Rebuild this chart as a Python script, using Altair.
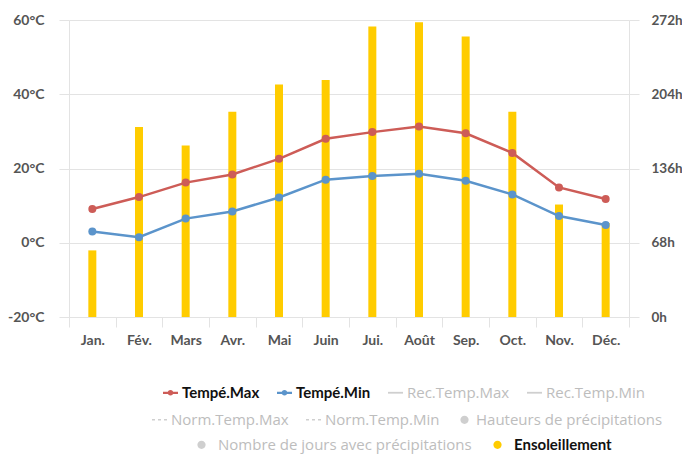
import json
import altair as alt
import pandas as pd

# ---------------- data ----------------
months = ["Jan.", "Fév.", "Mars", "Avr.", "Mai", "Juin", "Jui.", "Août", "Sep.", "Oct.", "Nov.", "Déc."]
temp_max = [9.1, 12.3, 16.2, 18.4, 22.6, 28.0, 29.8, 31.3, 29.5, 24.2, 14.9, 11.8]
temp_min = [3.0, 1.5, 6.5, 8.4, 12.2, 17.0, 18.0, 18.6, 16.7, 13.0, 7.2, 4.8]
sunshine = [61, 174, 157, 188, 213, 217, 266, 270, 257, 188, 103, 86]

left_ticks = [-20, 0, 20, 40, 60]
right_ticks = [0, 68, 136, 204, 272]

legend_row1 = ["Tempé.Max", "Tempé.Min", "Rec.Temp.Max", "Rec.Temp.Min"]
legend_row2 = ["Norm.Temp.Max", "Norm.Temp.Min", "Hauteurs de précipitations"]
legend_row3 = ["Nombre de jours avec précipitations", "Ensoleillement"]
active_series = ["Tempé.Max", "Tempé.Min", "Ensoleillement"]
line_dot_series = ["Tempé.Max", "Tempé.Min"]
line_series = ["Rec.Temp.Max", "Rec.Temp.Min"]
dash_series = ["Norm.Temp.Max", "Norm.Temp.Min"]

# ---------------- style ----------------
RED = "#cd5c57"
BLUE = "#5b94cb"
YELLOW = "#ffcc00"
GREY_SYM = "#cfcfcf"
GRID = "#e3e3e3"
AXIS_LABEL = "#555555"
FONT = "Lato"
FONT_GREY = "Open Sans"

df_temp = pd.DataFrame({
    "mois": months * 2,
    "serie": ["Tempé.Max"] * len(months) + ["Tempé.Min"] * len(months),
    "temp": temp_max + temp_min,
})
df_sun = pd.DataFrame({"mois": months, "heures": sunshine})
df_leg = pd.DataFrame({"serie": legend_row1 + legend_row2 + legend_row3})

x_enc = alt.X(
    "mois:N", sort=months,
    scale=alt.Scale(domain=months, paddingInner=0, paddingOuter=0),
    axis=alt.Axis(title=None, labelAngle=0, tickBand="extent", tickSize=10,
                  tickColor=GRID, domainColor=GRID, labelPadding=6,
                  labelColor=AXIS_LABEL, labelFont=FONT, labelFontSize=14,
                  labelFontWeight="bold", grid=False),
)

axis_common = dict(title=None, tickSize=10, tickColor=GRID, domainColor=GRID,
                   labelColor=AXIS_LABEL, labelFont=FONT, labelFontWeight="bold")

bars = alt.Chart(df_sun).mark_bar(size=8, color=YELLOW).encode(
    x=x_enc,
    y=alt.Y("heures:Q", scale=alt.Scale(domain=[0, 272], nice=False),
            axis=alt.Axis(orient="right", values=right_ticks, grid=False,
                          labelPadding=12, labelFontSize=13.5,
                          labelExpr="datum.value + 'h'", **axis_common)),
)

base_temp = alt.Chart(df_temp).encode(
    x=x_enc,
    y=alt.Y("temp:Q", scale=alt.Scale(domain=[-20, 60], nice=False, zero=False),
            axis=alt.Axis(orient="left", values=left_ticks, grid=True, gridColor=GRID,
                          labelPadding=15, labelFontSize=14,
                          labelExpr="datum.value + '°C'", **axis_common)),
    color=alt.Color("serie:N", scale=alt.Scale(domain=line_dot_series, range=[RED, BLUE]),
                    legend=None),
)
lines = base_temp.mark_line(strokeWidth=2.5)
points = base_temp.mark_point(filled=True, size=64, opacity=1)
temp_layer = alt.layer(lines, points)

# legend symbol shapes
P_LINE_DOT = "M-1,-0.15H1V0.15H-1Z M0.38,0A0.38,0.38 0 1,1 -0.38,0A0.38,0.38 0 1,1 0.38,0Z"
P_LINE = "M-1,-0.12H1V0.12H-1Z"
P_DASH = "M-1,-0.1H-0.6V0.1H-1Z M-0.2,-0.1H0.2V0.1H-0.2Z M0.6,-0.1H1V0.1H0.6Z"
P_CIRCLE = "M0.55,0A0.55,0.55 0 1,1 -0.55,0A0.55,0.55 0 1,1 0.55,0Z"

is_active = f"indexof({json.dumps(active_series)}, datum.value) >= 0"
sym_expr = (
    f"indexof({json.dumps(line_dot_series)}, datum.value) >= 0 ? '{P_LINE_DOT}' : "
    f"indexof({json.dumps(line_series)}, datum.value) >= 0 ? '{P_LINE}' : "
    f"indexof({json.dumps(dash_series)}, datum.value) >= 0 ? '{P_DASH}' : '{P_CIRCLE}'"
)
lab_color_expr = f"{is_active} ? '#111111' : '#bdbdbd'"
lab_weight_expr = f"{is_active} ? 'bold' : 'normal'"
lab_font_expr = f"{is_active} ? '{FONT}' : '{FONT_GREY}'"


def legend_layer(names, colors, lx, ly, label_offset=4, col_pad=17):
    return alt.Chart(df_leg).transform_filter("false").mark_point(filled=True).encode(
        color=alt.Color(
            "serie:N",
            scale=alt.Scale(domain=names, range=colors),
            legend=alt.Legend(
                orient="none", legendX=lx, legendY=ly, direction="horizontal",
                title=None, padding=0,
                symbolType={"expr": sym_expr}, symbolSize=225, symbolStrokeWidth=0,
                symbolOpacity=1,
                labelFont={"expr": lab_font_expr}, labelFontSize=15, labelLimit=400,
                labelColor={"expr": lab_color_expr},
                labelFontWeight={"expr": lab_weight_expr},
                labelOffset=label_offset, columnPadding=col_pad,
            ),
        )
    )


leg1 = legend_layer(legend_row1, [RED, BLUE, GREY_SYM, GREY_SYM], 94, 365)
leg2 = legend_layer(legend_row2, [GREY_SYM, GREY_SYM, GREY_SYM], 83, 392)
leg3 = legend_layer(legend_row3, [GREY_SYM, YELLOW], 125, 417, label_offset=9, col_pad=18)

chart = alt.layer(bars, temp_layer, leg1, leg2, leg3).resolve_scale(
    y="independent", color="independent"
).properties(
    width=560, height=297,
    autosize=alt.AutoSizeParams(type="none"),
    padding={"left": 61, "top": 12, "right": 53, "bottom": 137},
    background="white",
).configure_view(stroke=None)

chart.save("out.html", embed_options={"renderer": "svg", "actions": False})
